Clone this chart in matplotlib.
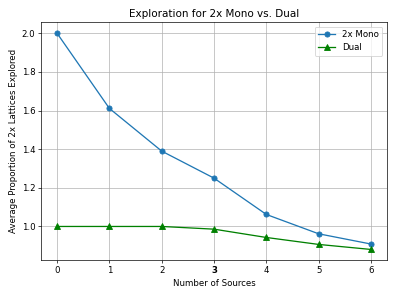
import numpy as np
import matplotlib
matplotlib.use("Agg")
import matplotlib.pyplot as plt

sources = [0, 1, 2, 3, 4, 5, 6]
mono = [2.0, 1.611, 1.39, 1.25, 1.062, 0.962, 0.909]
dual = [1.0, 1.0, 1.0, 0.986, 0.943, 0.907, 0.881]

fig = plt.figure(figsize=(6.4, 4.8), dpi=61.875)
plt.plot(sources, mono, "o-", label="2x Mono")
plt.plot(sources, dual, "g^-", label="Dual")
plt.grid()
plt.title("Exploration for 2x Mono vs. Dual")
plt.xlabel("Number of Sources")
plt.ylabel("Average Proportion of 2x Lattices Explored")
plt.xticks(sources)
for lbl in plt.gca().get_xticklabels():
    if lbl.get_text() == "3":
        lbl.set_fontweight("bold")
plt.legend()
plt.tight_layout()
plt.savefig("out.png")
